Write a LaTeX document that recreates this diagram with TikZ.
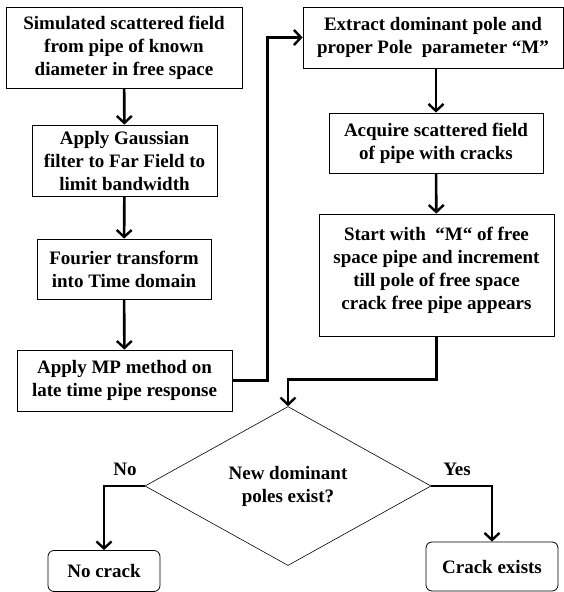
\documentclass[tikz,border=0pt]{standalone}
\usepackage{fontspec}
\setmainfont{Liberation Serif}
\usetikzlibrary{arrows.meta,shapes.geometric}

\tikzset{
    stepbox/.style={draw=black,line width=0.8pt,align=center,inner sep=2pt,
        font=\fontsize{19}{23}\selectfont\bfseries},
    endbox/.style={stepbox,rounded corners=6pt},
    flow/.style={line width=2.6pt,-{Straight Barb[length=7pt,width=15pt,line width=2.4pt]}},
    flowline/.style={line width=2.6pt}
}

\begin{document}
\begin{tikzpicture}[x=1pt,y=-1pt]
    \useasboundingbox (0,0) rectangle (564,592);

    \node[stepbox,minimum width=236pt,minimum height=81pt] (sim) at (124,47.5)
        {Simulated scattered field\\from pipe of known\\diameter in free space};
    \node[stepbox,minimum width=185pt,minimum height=71pt] (gauss) at (124.5,160.5)
        {Apply Gaussian\\filter to Far Field to\\limit bandwidth};
    \node[stepbox,minimum width=174pt,minimum height=60pt] (fourier) at (124,269)
        {Fourier transform\\into Time domain};
    \node[stepbox,minimum width=215pt,minimum height=61pt] (mp) at (124.5,380.5)
        {Apply MP method on\\late time pipe response};

    \node[stepbox,minimum width=260pt,minimum height=61pt] (extract) at (433,37.5)
        {Extract dominant pole and\\proper Pole\ \ parameter “M”};
    \node[stepbox,minimum width=214pt,minimum height=60pt] (acquire) at (436,143)
        {Acquire scattered field\\of pipe with cracks};
    \node[stepbox,minimum width=235pt,minimum height=122pt] (start) at (436.5,275)
        {Start with\ \ “M“ of free\\space pipe and increment\\till pole of free space\\crack free pipe appears\\[-9pt]};

    \node[diamond,draw=black,line width=0.6pt,minimum width=286pt,minimum height=131pt,
        inner sep=0pt,align=center,font=\fontsize{19}{23}\selectfont\bfseries] (decide) at (288,486)
        {New dominant\\poles exist?};

    \node[endbox,minimum width=112pt,minimum height=41pt] (nocrack) at (104,571)
        {No crack};
    \node[endbox,minimum width=132pt,minimum height=49pt] (crack) at (492,566.5)
        {Crack exists};

    \node[font=\fontsize{19}{23}\selectfont\bfseries] (no) at (125,469) {No};
    \node[font=\fontsize{19}{23}\selectfont\bfseries] (yes) at (457,469) {Yes};

    \draw[flow] (sim) -- (gauss);
    \draw[flow] (gauss) -- (fourier);
    \draw[flow] (fourier) -- (mp);
    \draw[flow] (mp.east) -- ++(35,0) |- (extract.west);

    \draw[flow] (acquire.north |- extract.south) -- (acquire.north);
    \draw[flow] (acquire) -- (start);
    \draw[flow] (start.south) -- ++(0,43) -| (decide.north);

    \draw[flow] (decide.west) -| (nocrack.north);
    \draw[flow] (decide.east) -| (crack.north);
\end{tikzpicture}
\end{document}
